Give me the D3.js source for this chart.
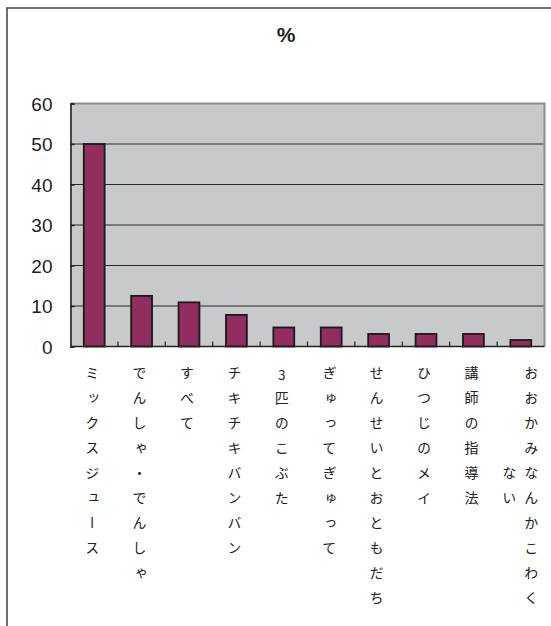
<!DOCTYPE html>
<html><head><meta charset="utf-8">
<script src="https://cdn.jsdelivr.net/npm/d3@7"></script>
<style>
html,body{margin:0;padding:0;background:#fff;}
svg{display:block;}
</style></head>
<body>
<script>
const title = "%";
const categories = ["ミックスジュース","でんしゃ・でんしゃ","すべて","チキチキバンバン","3匹のこぶた","ぎゅってぎゅって","せんせいとおともだち","ひつじのメイ","講師の指導法","おおかみなんかこわくない"];
const values = [50, 12.5, 10.9, 7.8, 4.7, 4.7, 3.1, 3.1, 3.1, 1.6];
const yTicks = [0, 10, 20, 30, 40, 50, 60];

const W = 551, H = 626;
const M = {left: 70.5, right: 544.5, top: 103.5, bottom: 346.5};
const svg = d3.select("body").append("svg").attr("width", W).attr("height", H);

// outer frame (left + top visible)
svg.append("path").attr("d", `M7,${H+2}V8H${W+2}`).attr("fill","none").attr("stroke","#4a4a4a").attr("stroke-width",1.6);

svg.append("text").attr("x", 286).attr("y", 42).attr("text-anchor","middle")
  .attr("font-family","Liberation Sans, Arial, sans-serif").attr("font-size",21).attr("font-weight","bold").attr("fill","#222").text(title);

const x = d3.scaleBand().domain(categories).range([M.left, M.right]).paddingInner(0.56).paddingOuter(0.28);
const xOuter = d3.scaleBand().domain(categories).range([M.left, M.right]);
const y = d3.scaleLinear().domain([0, 60]).range([M.bottom, M.top]);

svg.append("rect").attr("x", M.left).attr("y", M.top).attr("width", M.right-M.left).attr("height", M.bottom-M.top).attr("fill","#c8c9cb");

// gridlines
svg.append("g").selectAll("line").data(yTicks.filter(d => d > 0 && d < 60)).join("line")
  .attr("x1", M.left).attr("x2", M.right).attr("y1", d => y(d)).attr("y2", d => y(d))
  .attr("stroke","#2b2b2b").attr("stroke-width",1.1);

// plot top/right border
svg.append("path").attr("d", `M${M.left},${M.top}H${M.right}V${M.bottom}`).attr("fill","none").attr("stroke","#8b8c8e").attr("stroke-width",2);

// bars
svg.append("g").selectAll("rect").data(values).join("rect")
  .attr("x", (d,i) => x(categories[i])).attr("width", x.bandwidth())
  .attr("y", d => y(d)).attr("height", d => y(0) - y(d))
  .attr("fill","#922e5e").attr("stroke","#1a1a1a").attr("stroke-width",1.8);

// y axis
const yAxis = d3.axisLeft(y).tickValues(yTicks).tickSize(-4).tickPadding(18);
const gy = svg.append("g").attr("transform", `translate(${M.left},0)`).call(yAxis);
gy.select(".domain").attr("stroke","#222").attr("stroke-width",1.6);
gy.selectAll(".tick line").attr("stroke","#222").attr("stroke-width",1.4);
gy.selectAll(".tick text").attr("font-family","Liberation Sans, Arial, sans-serif").attr("font-size",19).attr("fill","#1e1e1e").attr("dy","0.36em");

// x axis with ticks between categories
const gx = svg.append("g").attr("transform", `translate(0,${M.bottom})`);
gx.append("line").attr("x1", M.left).attr("x2", M.right).attr("stroke","#222").attr("stroke-width",1.6);
gx.selectAll("line.tk").data(categories.slice(1)).join("line").attr("class","tk")
  .attr("x1", d => xOuter(d)).attr("x2", d => xOuter(d)).attr("y1",0).attr("y2",-5)
  .attr("stroke","#222").attr("stroke-width",1.2);

// vertical labels
const step = 25, fs = 14, rowTop = 366;
const lab = svg.append("g").attr("font-family","Noto Sans CJK JP, sans-serif").attr("font-size",fs).attr("fill","#222");
function vtext(t, xx, r0, size, off) {
  lab.append("text")
    .attr("x", xx).attr("y", rowTop + r0*step + (off || 0))
    .attr("font-size", size || fs)
    .style("writing-mode","vertical-rl").style("text-orientation","upright")
    .style("letter-spacing", (step - (size||fs)) + "px")
    .text(t);
}
categories.forEach((c, i) => {
  const cx = xOuter(c) + xOuter.bandwidth()/2;
  if (c.length > 10) {
    vtext(c.slice(0,10), cx + 10.5, 0);
    vtext(c.slice(10), cx - 11.5, 4);
  } else if (/^[0-9]/.test(c)) {
    vtext(c[0], cx - 2, 0, 13, 3);
    vtext(c.slice(1), cx - 2, 1);
  } else {
    vtext(c, cx - 2, 0);
  }
});
</script>
</body></html>
